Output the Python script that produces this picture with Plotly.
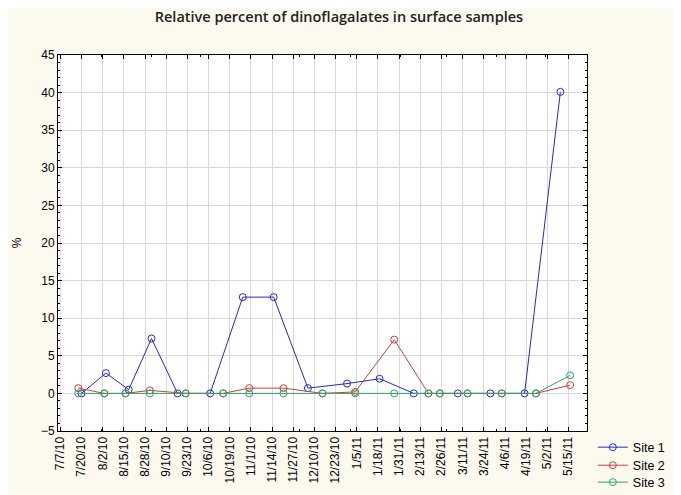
import plotly.graph_objects as go
import pandas as pd

# Tick labels on the x axis (every 13 days)
tick_labels = ["7/7/10", "7/20/10", "8/2/10", "8/15/10", "8/28/10", "9/10/10", "9/23/10",
               "10/6/10", "10/19/10", "11/1/10", "11/14/10", "11/27/10", "12/10/10",
               "12/23/10", "1/5/11", "1/18/11", "1/31/11", "2/13/11", "2/26/11",
               "3/11/11", "3/24/11", "4/6/11", "4/19/11", "5/2/11", "5/15/11"]

# Site 1 samples
site1_dates = ["2010-07-20", "2010-08-04", "2010-08-18", "2010-09-01", "2010-09-17",
               "2010-10-07", "2010-10-27", "2010-11-15", "2010-12-06", "2010-12-30",
               "2011-01-19", "2011-02-09", "2011-03-08", "2011-03-28", "2011-04-18",
               "2011-05-10"]
site1_vals = [0.0, 2.7, 0.5, 7.3, 0.0, 0.0, 12.8, 12.8, 0.7, 1.3, 1.95, 0.0, 0.0, 0.0, 0.0, 40.1]

# Sites 2 and 3 were sampled on the same days
site23_dates = ["2010-07-18", "2010-08-03", "2010-08-16", "2010-08-31", "2010-09-22",
                "2010-10-15", "2010-10-31", "2010-11-21", "2010-12-15", "2011-01-04",
                "2011-01-28", "2011-02-18", "2011-02-25", "2011-03-14", "2011-04-04",
                "2011-04-25", "2011-05-16"]
site2_vals = [0.7, 0.0, 0.0, 0.4, 0.0, 0.0, 0.7, 0.7, 0.0, 0.2, 7.15, 0.0, 0.0, 0.0, 0.0, 0.0, 1.1]
site3_vals = [0.0, 0.0, 0.0, 0.0, 0.0, 0.0, 0.0, 0.0, 0.0, 0.0, 0.0, 0.0, 0.0, 0.0, 0.0, 0.0, 2.4]

tick_dates = pd.to_datetime(tick_labels, format="%m/%d/%y")

colors = ['#2828c8', '#c84040', '#28a868']
font = "Liberation Sans"

fig = go.Figure()
series = [("Site 1", site1_dates, site1_vals), ("Site 2", site23_dates, site2_vals),
          ("Site 3", site23_dates, site3_vals)]
legend_ids = ['legend', 'legend2', 'legend3']
for (name, d, v), c, lg in zip(series, colors, legend_ids):
    fig.add_trace(go.Scatter(x=pd.to_datetime(d), y=v, mode='lines+markers', name=name,
                             legend=lg, line=dict(color=c, width=1),
                             marker=dict(symbol='circle-open', size=7, color=c, line=dict(width=1, color=c))))

# one small legend per site so the rows sit close together like the original
leg_style = dict(x=1.011, xanchor='left', yanchor='middle', bgcolor='rgba(0,0,0,0)',
                 font=dict(size=12.5), itemwidth=30)

fig.update_layout(
    title=dict(text="Relative percent of dinoflagalates in surface samples",
               x=0.486, xref='container', y=0.981, yref='container', yanchor='middle',
               font=dict(family="Open Sans", size=14.5, color='#222222', weight=600)),
    width=681, height=495,
    paper_bgcolor='#fcf9ee', plot_bgcolor='white',
    margin=dict(l=50, r=102, t=47, b=72, autoexpand=False),
    font=dict(family=font, size=12, color='black'),
    showlegend=True,
    legend=dict(y=-0.044, **leg_style),
    legend2=dict(y=-0.092, **leg_style),
    legend3=dict(y=-0.137, **leg_style),
    xaxis=dict(
        type='date', automargin=False,
        tickmode='array', tickvals=tick_dates, ticktext=tick_labels, tickangle=-90,
        range=['2010-07-05 14:00', '2011-05-26 08:00'],
        showgrid=True, gridcolor='#d9d9d9', gridwidth=1,
        showline=True, linecolor='black', linewidth=1, mirror='allticks',
        ticks='inside', ticklen=4, tickcolor='black',
        minor=dict(ticks='inside', ticklen=2, tickcolor='black', nticks=4, showgrid=False),
        zeroline=False,
    ),
    yaxis=dict(
        range=[-5, 45], dtick=5, tick0=0, automargin=False,
        title=dict(text="%", standoff=16, font=dict(size=12)),
        showgrid=True, gridcolor='#d9d9d9', gridwidth=1,
        showline=True, linecolor='black', linewidth=1, mirror='allticks',
        ticks='inside', ticklen=4, tickcolor='black',
        minor=dict(ticks='inside', ticklen=2, tickcolor='black', dtick=1, showgrid=False),
        zeroline=False,
    ),
)

fig.write_html("out.html")
